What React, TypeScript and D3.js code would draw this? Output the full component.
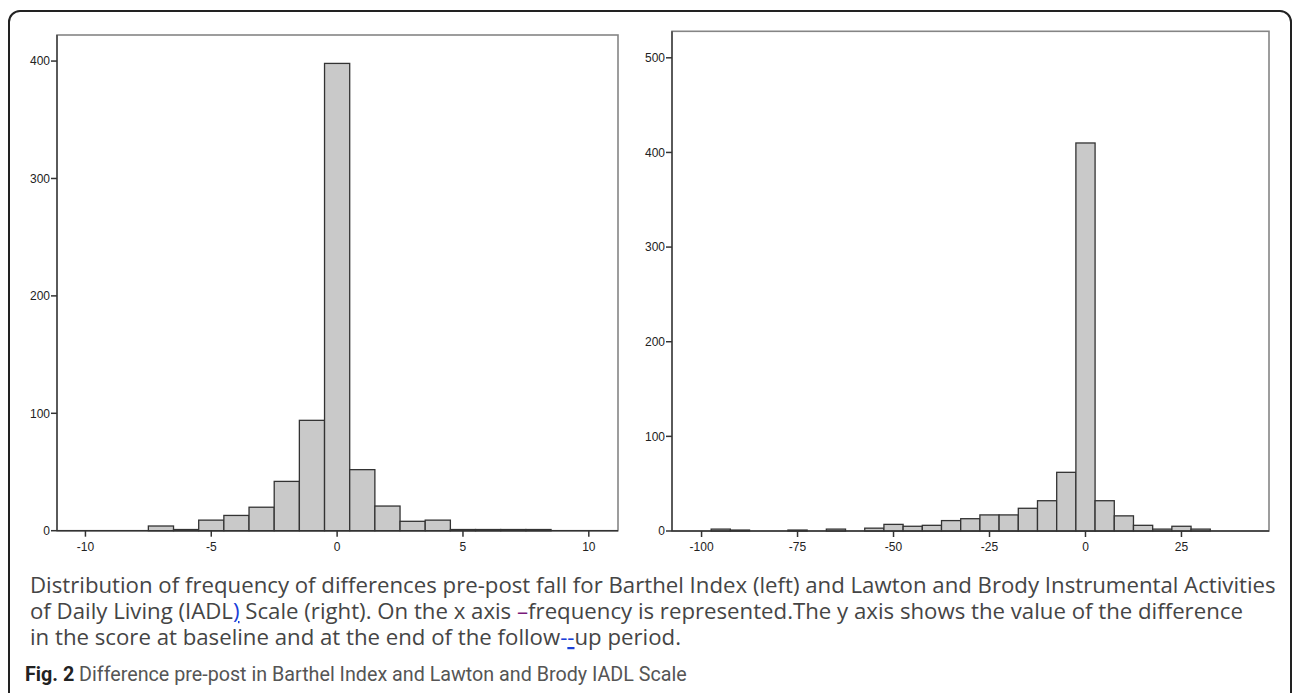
import React, { useLayoutEffect, useRef, useState } from 'react';
import * as d3 from 'd3';

// Barthel Index: bin centres (width 1) and frequencies
const barthelBins = [-7, -6, -5, -4, -3, -2, -1, 0, 1, 2, 3, 4, 5, 6, 7, 8];
const barthelCounts = [4, 1, 9, 13, 20, 42, 94, 398, 52, 21, 8, 9, 1, 1, 1, 1];
const barthelXTicks = [-10, -5, 0, 5, 10];
const barthelYTicks = [0, 100, 200, 300, 400];

// Lawton & Brody IADL: bin centres (width 5) and frequencies
const iadlBins = [-95, -90, -75, -65, -55, -50, -45, -40, -35, -30, -25, -20, -15, -10, -5, 0, 5, 10, 15, 20, 25, 30];
const iadlCounts = [2, 1, 1, 2, 3, 7, 5, 6, 11, 13, 17, 17, 24, 32, 62, 410, 32, 16, 6, 2, 5, 2];
const iadlXTicks = [-100, -75, -50, -25, 0, 25];
const iadlYTicks = [0, 100, 200, 300, 400, 500];

const captionFirst = 'Distribution of frequency of differences pre-post fall for Barthel Index (left) and Lawton and Brody Instrumental Activities';
const figTitle = ' Difference pre-post in Barthel Index and Lawton and Brody IADL Scale';

const tickFont = '"Liberation Sans", Arial, sans-serif';

type HistProps = {
  bins: number[];
  counts: number[];
  binWidth: number;
  xDomain: [number, number];
  yMax: number;
  xTicks: number[];
  yTicks: number[];
  left: number;
  right: number;
  top: number;
  bottom: number;
};

function Histogram({ bins, counts, binWidth, xDomain, yMax, xTicks, yTicks, left, right, top, bottom }: HistProps) {
  const x = d3.scaleLinear().domain(xDomain).range([left, right]);
  const y = d3.scaleLinear().domain([0, yMax]).range([bottom, top]);

  return (
    <g>
      {/* plot frame */}
      <rect x={left} y={top} width={right - left} height={bottom - top} fill="none" stroke="#858585" strokeWidth={1.6} />

      {bins.map((b, i) => (
        <rect
          key={b}
          x={x(b - binWidth / 2)}
          y={y(counts[i])}
          width={x(b + binWidth / 2) - x(b - binWidth / 2)}
          height={bottom - y(counts[i])}
          fill="#c9c9c9"
          stroke="#333"
          strokeWidth={1.3}
        />
      ))}

      {/* axes */}
      <line x1={left} x2={left} y1={top} y2={bottom} stroke="#444" strokeWidth={1.5} />
      <line x1={left} x2={right} y1={bottom} y2={bottom} stroke="#333" strokeWidth={1.6} />

      {yTicks.map(t => (
        <g key={'y' + t}>
          <line x1={left - 6} x2={left} y1={y(t)} y2={y(t)} stroke="#333" strokeWidth={1.5} />
          <text x={left - 7} y={y(t)} dy="0.36em" textAnchor="end" fontSize={12} fontFamily={tickFont} fill="#222">
            {t}
          </text>
        </g>
      ))}
      {xTicks.map(t => (
        <g key={'x' + t}>
          <line x1={x(t)} x2={x(t)} y1={bottom} y2={bottom + 6} stroke="#333" strokeWidth={1.5} />
          <text x={x(t)} y={bottom + 20} textAnchor="middle" fontSize={12} fontFamily={tickFont} fill="#222">
            {t}
          </text>
        </g>
      ))}
    </g>
  );
}

// measure a text at a base size and scale it so it spans the wanted width
function useFitSize(target: number, base: number) {
  const ref = useRef<SVGTextElement>(null);
  const [size, setSize] = useState(base);
  useLayoutEffect(() => {
    if (ref.current) {
      const w = ref.current.getComputedTextLength();
      if (w > 0) setSize(base * target / w);
    }
  }, []);
  return [ref, size] as const;
}

export default function App() {
  const capFont = '"Open Sans", "Noto Sans", sans-serif';
  const [capRef, capSize] = useFitSize(1246, 18);
  const [figRef, figSize] = useFitSize(662, 17);

  return (
    <svg width={1293} height={693} style={{ position: 'absolute', left: 0, top: 0, background: '#fff' }}>
      {/* outer rounded panel */}
      <path d="M 9 700 L 9 22 A 11 11 0 0 1 20 11 L 1280 11 A 11 11 0 0 1 1291 22 L 1291 700" fill="none" stroke="#222" strokeWidth={2} />

      <Histogram
        bins={barthelBins}
        counts={barthelCounts}
        binWidth={1}
        xDomain={[-11.13, 11.16]}
        yMax={422.2}
        xTicks={barthelXTicks}
        yTicks={barthelYTicks}
        left={57}
        right={618}
        top={35}
        bottom={530.7}
      />
      <Histogram
        bins={iadlBins}
        counts={iadlCounts}
        binWidth={5}
        xDomain={[-107.7, 47.8]}
        yMax={528}
        xTicks={iadlXTicks}
        yTicks={iadlYTicks}
        left={672}
        right={1269}
        top={31.3}
        bottom={531}
      />

      <g fontFamily={capFont} fontSize={capSize} fill="#454545">
        <text ref={capRef} x={30} y={593}>{captionFirst}</text>
        <text x={30} y={619}>
          of Daily Living (IADL
          <tspan fill="#1a3fd8" textDecoration="underline">)</tspan>
          {' Scale (right). On the x axis '}
          <tspan fill="#7a1a7a">–</tspan>
          frequency is represented.The y axis shows the value of the difference
        </text>
        <text x={30} y={645}>
          in the score at baseline and at the end of the follow
          <tspan fill="#1a3fd8">-</tspan>
          <tspan fill="#1a3fd8" textDecoration="underline">-</tspan>
          up period.
        </text>
      </g>
      <text ref={figRef} x={25} y={681} fontFamily='Roboto, "Noto Sans", sans-serif' fontSize={figSize} fill="#555">
        <tspan fontWeight="bold" fill="#222">Fig. 2</tspan>
        {figTitle}
      </text>
    </svg>
  );
}
